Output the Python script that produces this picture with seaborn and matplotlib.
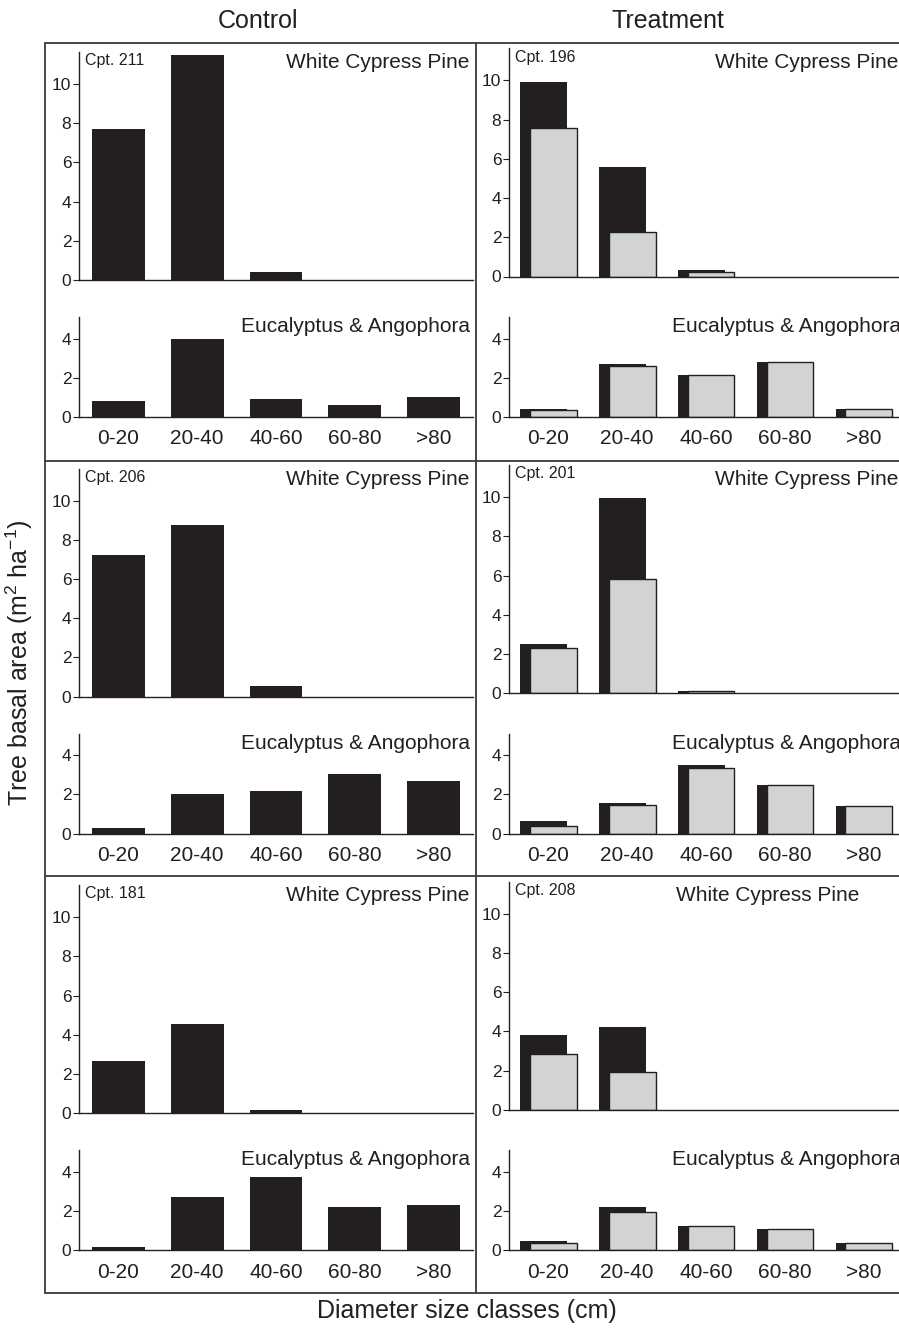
import numpy as np
import pandas as pd
import matplotlib
matplotlib.use("Agg")
import matplotlib.pyplot as plt
import seaborn as sns
from matplotlib.lines import Line2D

# Datos (área basal, m2/ha)
classes = ['0-20', '20-40', '40-60', '60-80', '>80']

# Control (una sola serie)
wcp_211 = [7.7, 11.5, 0.4, 0, 0]
euc_211 = [0.8, 4.0, 0.9, 0.6, 1.0]
wcp_206 = [7.25, 8.75, 0.55, 0, 0]
euc_206 = [0.27, 2.05, 2.2, 3.03, 2.7]
wcp_181 = [2.65, 4.55, 0.15, 0, 0]
euc_181 = [0.15, 2.7, 3.75, 2.2, 2.3]

# Tratamiento (antes = negro, después = gris)
wcp_196_pre = [9.9, 5.6, 0.35, 0, 0]
wcp_196_post = [7.6, 2.25, 0.24, 0, 0]
euc_196_pre = [0.43, 2.72, 2.16, 2.83, 0.39]
euc_196_post = [0.34, 2.6, 2.13, 2.82, 0.41]
wcp_201_pre = [2.5, 9.95, 0.12, 0, 0]
wcp_201_post = [2.32, 5.84, 0.11, 0, 0]
euc_201_pre = [0.63, 1.55, 3.48, 2.46, 1.39]
euc_201_post = [0.41, 1.46, 3.35, 2.48, 1.39]
wcp_208_pre = [3.8, 4.2, 0, 0, 0]
wcp_208_post = [2.84, 1.95, 0, 0, 0]
euc_208_pre = [0.46, 2.23, 1.22, 1.1, 0.35]
euc_208_post = [0.35, 1.94, 1.23, 1.08, 0.37]

control_cpts = ['211', '206', '181']
treat_cpts = ['196', '201', '208']

BLACK = '#231f20'
GREY = '#d1d3d4'

W, H = 899, 1329

sns.set_style('ticks')
plt.rcParams['font.family'] = ['Liberation Sans', 'DejaVu Sans']
plt.rcParams['mathtext.fontset'] = 'custom'
plt.rcParams['mathtext.rm'] = 'Liberation Sans'
plt.rcParams['mathtext.it'] = 'Liberation Sans'
plt.rcParams['text.color'] = BLACK

fig = plt.figure(figsize=(W / 100, H / 100), dpi=100)


def add_ax(x0, x1, ytop, ybot):
    return fig.add_axes([x0 / W, 1 - ybot / H, (x1 - x0) / W, (ybot - ytop) / H])


def style_ax(ax, ymax, yticks, show_x):
    ax.set_ylim(0, ymax)
    ax.set_xlim(-0.5, 4.5)
    ax.set_yticks(yticks)
    ax.set_xlabel('')
    ax.set_ylabel('')
    sns.despine(ax=ax)
    for s in ['left', 'bottom']:
        ax.spines[s].set_color(BLACK)
        ax.spines[s].set_linewidth(1.0)
    ax.tick_params(axis='y', length=4, width=0.8, color=BLACK, labelsize=12.5,
                   labelcolor=BLACK, pad=1.5)
    ax.tick_params(axis='x', length=0, labelsize=15, labelcolor=BLACK, pad=9)
    if not show_x:
        ax.set_xticklabels([])
    ax.patch.set_alpha(0)


def single_bars(ax, vals):
    df = pd.DataFrame({'clase': classes, 'area': vals})
    sns.barplot(data=df, x='clase', y='area', order=classes, color=BLACK,
                saturation=1, width=0.67, errorbar=None, linewidth=0, ax=ax)


def paired_bars(ax, pre, post):
    df_pre = pd.DataFrame({'clase': classes, 'area': pre})
    df_post = pd.DataFrame({'clase': classes, 'area': post})
    sns.barplot(data=df_pre, x='clase', y='area', order=classes, color=BLACK,
                saturation=1, width=0.59, errorbar=None, linewidth=0, ax=ax)
    n = len(ax.patches)
    sns.barplot(data=df_post, x='clase', y='area', order=classes, color=GREY,
                saturation=1, width=0.59, errorbar=None, edgecolor=BLACK,
                linewidth=1.0, ax=ax)
    for p in ax.patches[:n]:
        p.set_x(p.get_x() - 0.06)
    for p in ax.patches[n:]:
        p.set_x(p.get_x() + 0.065)
        if p.get_height() == 0:
            p.set_visible(False)


row_shift = [0, 416.7, 833.3]

control_wcp = [wcp_211, wcp_206, wcp_181]
control_euc = [euc_211, euc_206, euc_181]
treat_wcp = [(wcp_196_pre, wcp_196_post), (wcp_201_pre, wcp_201_post),
             (wcp_208_pre, wcp_208_post)]
treat_euc = [(euc_196_pre, euc_196_post), (euc_201_pre, euc_201_post),
             (euc_208_pre, euc_208_post)]

for r in range(3):
    dy = row_shift[r]

    # Control
    ax = add_ax(79, 473, 52 + dy, 280 + dy)
    single_bars(ax, control_wcp[r])
    style_ax(ax, 11.63, [0, 2, 4, 6, 8, 10], False)
    ax.text(0.015, 0.995, f'Cpt. {control_cpts[r]}', transform=ax.transAxes,
            ha='left', va='top', fontsize=11.5)
    ax.text(0.99, 0.995, 'White Cypress Pine', transform=ax.transAxes,
            ha='right', va='top', fontsize=15)

    ax = add_ax(79, 473, 317 + dy, 417 + dy)
    single_bars(ax, control_euc[r])
    style_ax(ax, 5.1, [0, 2, 4], True)
    ax.text(0.992, 1.0, 'Eucalyptus & Angophora', transform=ax.transAxes,
            ha='right', va='top', fontsize=15)

    # Treatment
    ax = add_ax(509, 903, 48.5 + dy, 276.5 + dy)
    paired_bars(ax, *treat_wcp[r])
    style_ax(ax, 11.63, [0, 2, 4, 6, 8, 10], False)
    ax.text(0.015, 0.995, f'Cpt. {treat_cpts[r]}', transform=ax.transAxes,
            ha='left', va='top', fontsize=11.5)
    wx = 0.89 if r == 2 else 0.988
    ax.text(wx, 0.98, 'White Cypress Pine', transform=ax.transAxes,
            ha='right', va='top', fontsize=15)

    ax = add_ax(509, 903, 317 + dy, 417 + dy)
    paired_bars(ax, *treat_euc[r])
    style_ax(ax, 5.1, [0, 2, 4], True)
    ax.text(0.995, 1.0, 'Eucalyptus & Angophora', transform=ax.transAxes,
            ha='right', va='top', fontsize=15)

# Marcos de los paneles
frame = dict(color='#3a3a3a', linewidth=1.3, transform=fig.transFigure)
for yy in [43, 461, 876, 1293]:
    fig.add_artist(Line2D([45 / W, 1.0], [1 - yy / H, 1 - yy / H], **frame))
for xx in [45, 476]:
    fig.add_artist(Line2D([xx / W, xx / W], [1 - 43 / H, 1 - 1293 / H], **frame))

# Títulos y etiquetas
fig.text(258 / W, 1 - 21 / H, 'Control', ha='center', va='center', fontsize=18)
fig.text(668 / W, 1 - 21 / H, 'Treatment', ha='center', va='center', fontsize=18)
fig.text(467 / W, 1 - 1311 / H, 'Diameter size classes (cm)', ha='center',
         va='center', fontsize=18)
fig.text(19 / W, 1 - 663 / H, 'Tree basal area (m$^{2}$ ha$^{-1}$)', ha='center',
         va='center', rotation=90, fontsize=18)

fig.savefig('out.png', dpi=100, facecolor='white')
